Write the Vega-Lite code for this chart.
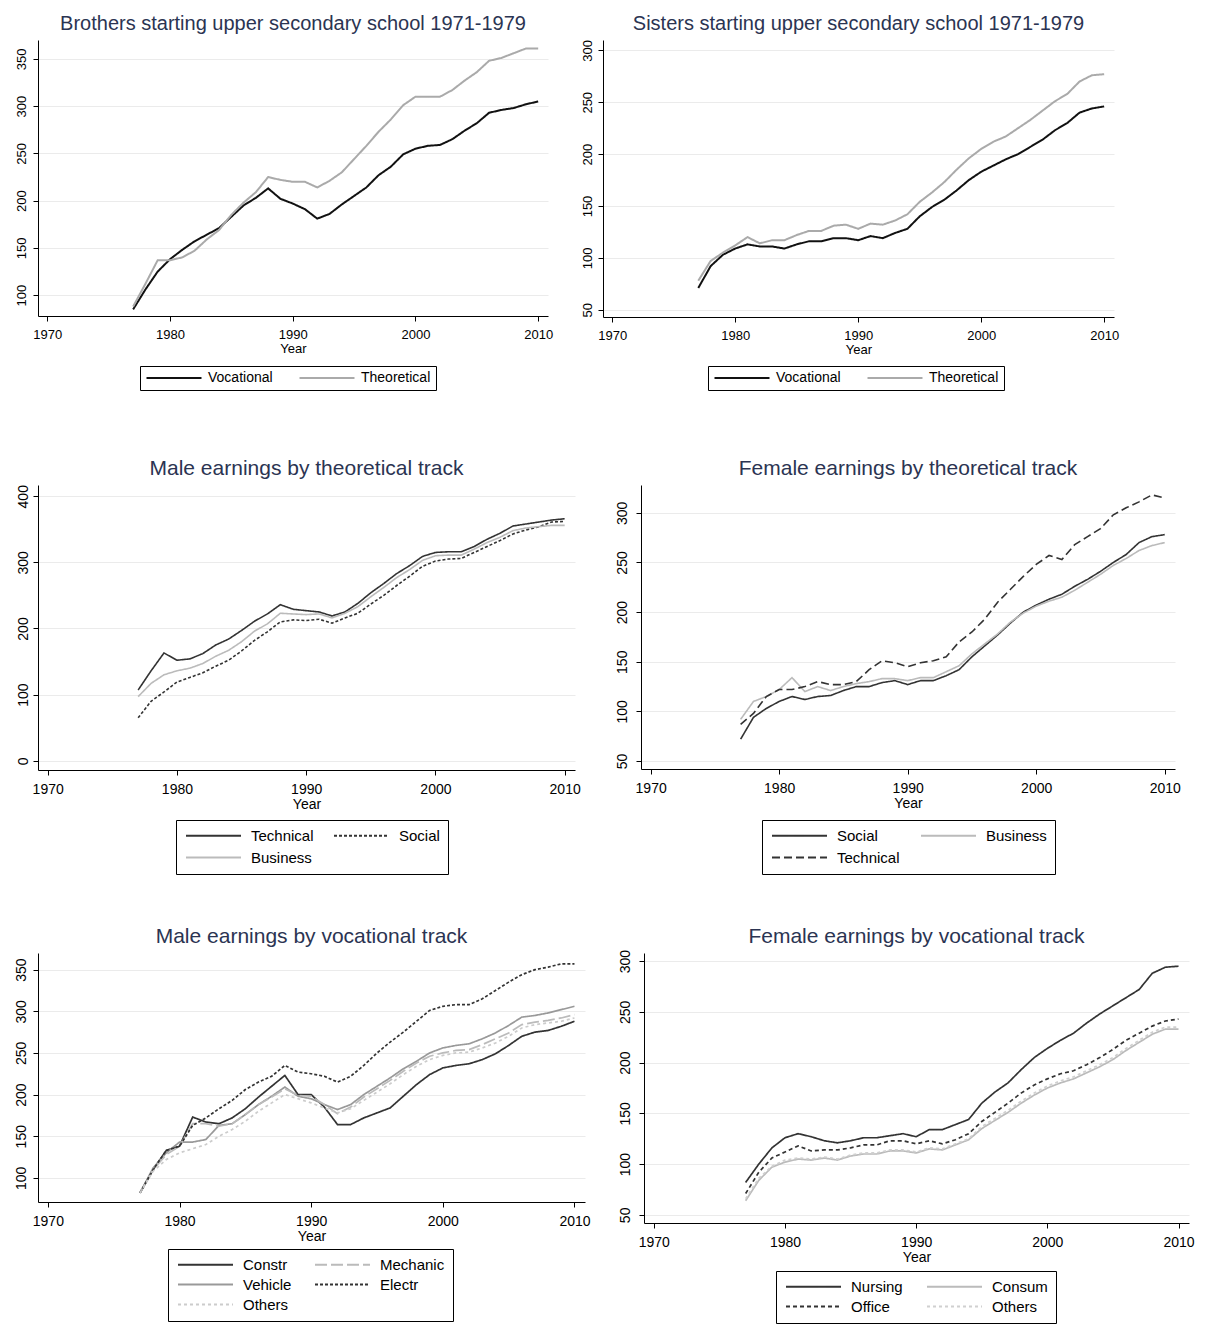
{
"$schema":"https://vega.github.io/schema/vega-lite/v6.json",
"background":"white",
"padding":{"left":14,"top":13,"right":0,"bottom":0},
"datasets":{
"p1":[{"year":1977,"Vocational":85,"Theoretical":88},{"year":1978,"Vocational":106,"Theoretical":112},{"year":1979,"Vocational":125,"Theoretical":137},{"year":1980,"Vocational":138,"Theoretical":137},{"year":1981,"Vocational":148,"Theoretical":140},{"year":1982,"Vocational":157,"Theoretical":147},{"year":1983,"Vocational":164,"Theoretical":159},{"year":1984,"Vocational":171,"Theoretical":169},{"year":1985,"Vocational":183,"Theoretical":185},{"year":1986,"Vocational":195,"Theoretical":198},{"year":1987,"Vocational":203,"Theoretical":209},{"year":1988,"Vocational":213,"Theoretical":225},{"year":1989,"Vocational":202,"Theoretical":222},{"year":1990,"Vocational":197,"Theoretical":220},{"year":1991,"Vocational":191,"Theoretical":220},{"year":1992,"Vocational":181,"Theoretical":214},{"year":1993,"Vocational":186,"Theoretical":221},{"year":1994,"Vocational":196,"Theoretical":230},{"year":1995,"Vocational":205,"Theoretical":244},{"year":1996,"Vocational":214,"Theoretical":258},{"year":1997,"Vocational":227,"Theoretical":273},{"year":1998,"Vocational":236,"Theoretical":286},{"year":1999,"Vocational":249,"Theoretical":301},{"year":2000,"Vocational":255,"Theoretical":310},{"year":2001,"Vocational":258,"Theoretical":310},{"year":2002,"Vocational":259,"Theoretical":310},{"year":2003,"Vocational":265,"Theoretical":317},{"year":2004,"Vocational":274,"Theoretical":327},{"year":2005,"Vocational":282,"Theoretical":336},{"year":2006,"Vocational":293,"Theoretical":348},{"year":2007,"Vocational":296,"Theoretical":351},{"year":2008,"Vocational":298,"Theoretical":356},{"year":2009,"Vocational":302,"Theoretical":361},{"year":2010,"Vocational":305,"Theoretical":361}],
"p2":[{"year":1977,"Vocational":71,"Theoretical":78},{"year":1978,"Vocational":92,"Theoretical":97},{"year":1979,"Vocational":103,"Theoretical":105},{"year":1980,"Vocational":109,"Theoretical":112},{"year":1981,"Vocational":113,"Theoretical":120},{"year":1982,"Vocational":111,"Theoretical":114},{"year":1983,"Vocational":111,"Theoretical":117},{"year":1984,"Vocational":109,"Theoretical":117},{"year":1985,"Vocational":113,"Theoretical":122},{"year":1986,"Vocational":116,"Theoretical":126},{"year":1987,"Vocational":116,"Theoretical":126},{"year":1988,"Vocational":119,"Theoretical":131},{"year":1989,"Vocational":119,"Theoretical":132},{"year":1990,"Vocational":117,"Theoretical":128},{"year":1991,"Vocational":121,"Theoretical":133},{"year":1992,"Vocational":119,"Theoretical":132},{"year":1993,"Vocational":124,"Theoretical":136},{"year":1994,"Vocational":128,"Theoretical":142},{"year":1995,"Vocational":140,"Theoretical":154},{"year":1996,"Vocational":149,"Theoretical":163},{"year":1997,"Vocational":156,"Theoretical":173},{"year":1998,"Vocational":165,"Theoretical":185},{"year":1999,"Vocational":175,"Theoretical":196},{"year":2000,"Vocational":183,"Theoretical":205},{"year":2001,"Vocational":189,"Theoretical":212},{"year":2002,"Vocational":195,"Theoretical":217},{"year":2003,"Vocational":200,"Theoretical":225},{"year":2004,"Vocational":207,"Theoretical":233},{"year":2005,"Vocational":214,"Theoretical":242},{"year":2006,"Vocational":223,"Theoretical":251},{"year":2007,"Vocational":230,"Theoretical":258},{"year":2008,"Vocational":240,"Theoretical":270},{"year":2009,"Vocational":244,"Theoretical":276},{"year":2010,"Vocational":246,"Theoretical":277}],
"p3":[{"year":1977,"Technical":107,"Social":65,"Business":97},{"year":1978,"Technical":136,"Social":90,"Business":117},{"year":1979,"Technical":163,"Social":104,"Business":130},{"year":1980,"Technical":152,"Social":119,"Business":136},{"year":1981,"Technical":154,"Social":126,"Business":140},{"year":1982,"Technical":162,"Social":133,"Business":147},{"year":1983,"Technical":175,"Social":143,"Business":158},{"year":1984,"Technical":184,"Social":152,"Business":167},{"year":1985,"Technical":197,"Social":166,"Business":180},{"year":1986,"Technical":211,"Social":182,"Business":196},{"year":1987,"Technical":222,"Social":195,"Business":207},{"year":1988,"Technical":236,"Social":210,"Business":223},{"year":1989,"Technical":229,"Social":213,"Business":222},{"year":1990,"Technical":227,"Social":212,"Business":221},{"year":1991,"Technical":225,"Social":214,"Business":222},{"year":1992,"Technical":219,"Social":208,"Business":216},{"year":1993,"Technical":225,"Social":216,"Business":223},{"year":1994,"Technical":238,"Social":223,"Business":233},{"year":1995,"Technical":254,"Social":237,"Business":248},{"year":1996,"Technical":268,"Social":250,"Business":262},{"year":1997,"Technical":283,"Social":265,"Business":277},{"year":1998,"Technical":295,"Social":279,"Business":289},{"year":1999,"Technical":309,"Social":294,"Business":303},{"year":2000,"Technical":315,"Social":302,"Business":310},{"year":2001,"Technical":316,"Social":305,"Business":311},{"year":2002,"Technical":316,"Social":306,"Business":311},{"year":2003,"Technical":324,"Social":315,"Business":320},{"year":2004,"Technical":335,"Social":324,"Business":330},{"year":2005,"Technical":344,"Social":333,"Business":338},{"year":2006,"Technical":355,"Social":343,"Business":348},{"year":2007,"Technical":358,"Social":349,"Business":352},{"year":2008,"Technical":361,"Social":354,"Business":354},{"year":2009,"Technical":364,"Social":361,"Business":356},{"year":2010,"Technical":366,"Social":362,"Business":356}],
"p4":[{"year":1977,"Social":72,"Business":92,"Technical":87},{"year":1978,"Social":94,"Business":110,"Technical":98},{"year":1979,"Social":103,"Business":115,"Technical":115},{"year":1980,"Social":110,"Business":122,"Technical":122},{"year":1981,"Social":115,"Business":134,"Technical":122},{"year":1982,"Social":112,"Business":120,"Technical":125},{"year":1983,"Social":115,"Business":125,"Technical":130},{"year":1984,"Social":116,"Business":121,"Technical":127},{"year":1985,"Social":121,"Business":125,"Technical":127},{"year":1986,"Social":125,"Business":128,"Technical":130},{"year":1987,"Social":125,"Business":130,"Technical":142},{"year":1988,"Social":129,"Business":133,"Technical":151},{"year":1989,"Social":131,"Business":133,"Technical":149},{"year":1990,"Social":127,"Business":131,"Technical":145},{"year":1991,"Social":131,"Business":134,"Technical":149},{"year":1992,"Social":131,"Business":134,"Technical":151},{"year":1993,"Social":136,"Business":140,"Technical":155},{"year":1994,"Social":142,"Business":146,"Technical":170},{"year":1995,"Social":155,"Business":158,"Technical":180},{"year":1996,"Social":166,"Business":168,"Technical":193},{"year":1997,"Social":177,"Business":178,"Technical":210},{"year":1998,"Social":189,"Business":190,"Technical":223},{"year":1999,"Social":200,"Business":199,"Technical":236},{"year":2000,"Social":207,"Business":206,"Technical":248},{"year":2001,"Social":213,"Business":211,"Technical":257},{"year":2002,"Social":218,"Business":215,"Technical":253},{"year":2003,"Social":226,"Business":222,"Technical":268},{"year":2004,"Social":233,"Business":230,"Technical":276},{"year":2005,"Social":241,"Business":238,"Technical":284},{"year":2006,"Social":250,"Business":247,"Technical":298},{"year":2007,"Social":258,"Business":254,"Technical":305},{"year":2008,"Social":270,"Business":262,"Technical":311},{"year":2009,"Social":276,"Business":267,"Technical":318},{"year":2010,"Social":278,"Business":270,"Technical":315}],
"p5":[{"year":1977,"Constr":82,"Vehicle":82,"Mechanic":82,"Electr":82,"Others":82},{"year":1978,"Constr":110,"Vehicle":112,"Mechanic":110,"Electr":110,"Others":108},{"year":1979,"Constr":133,"Vehicle":130,"Mechanic":128,"Electr":133,"Others":122},{"year":1980,"Constr":138,"Vehicle":143,"Mechanic":138,"Electr":138,"Others":130},{"year":1981,"Constr":173,"Vehicle":143,"Mechanic":165,"Electr":163,"Others":135},{"year":1982,"Constr":167,"Vehicle":146,"Mechanic":165,"Electr":172,"Others":140},{"year":1983,"Constr":165,"Vehicle":163,"Mechanic":162,"Electr":183,"Others":150},{"year":1984,"Constr":172,"Vehicle":165,"Mechanic":165,"Electr":193,"Others":158},{"year":1985,"Constr":183,"Vehicle":176,"Mechanic":176,"Electr":206,"Others":168},{"year":1986,"Constr":197,"Vehicle":188,"Mechanic":188,"Electr":215,"Others":180},{"year":1987,"Constr":210,"Vehicle":198,"Mechanic":197,"Electr":222,"Others":190},{"year":1988,"Constr":223,"Vehicle":209,"Mechanic":207,"Electr":235,"Others":200},{"year":1989,"Constr":200,"Vehicle":198,"Mechanic":199,"Electr":227,"Others":195},{"year":1990,"Constr":200,"Vehicle":195,"Mechanic":198,"Electr":225,"Others":190},{"year":1991,"Constr":185,"Vehicle":188,"Mechanic":188,"Electr":222,"Others":184},{"year":1992,"Constr":164,"Vehicle":182,"Mechanic":177,"Electr":215,"Others":178},{"year":1993,"Constr":164,"Vehicle":188,"Mechanic":185,"Electr":222,"Others":183},{"year":1994,"Constr":172,"Vehicle":200,"Mechanic":197,"Electr":235,"Others":193},{"year":1995,"Constr":178,"Vehicle":210,"Mechanic":207,"Electr":250,"Others":203},{"year":1996,"Constr":184,"Vehicle":220,"Mechanic":217,"Electr":263,"Others":213},{"year":1997,"Constr":198,"Vehicle":231,"Mechanic":228,"Electr":275,"Others":224},{"year":1998,"Constr":212,"Vehicle":240,"Mechanic":238,"Electr":288,"Others":234},{"year":1999,"Constr":224,"Vehicle":250,"Mechanic":246,"Electr":301,"Others":242},{"year":2000,"Constr":232,"Vehicle":256,"Mechanic":250,"Electr":306,"Others":247},{"year":2001,"Constr":235,"Vehicle":259,"Mechanic":253,"Electr":308,"Others":250},{"year":2002,"Constr":237,"Vehicle":261,"Mechanic":254,"Electr":308,"Others":251},{"year":2003,"Constr":242,"Vehicle":267,"Mechanic":260,"Electr":315,"Others":256},{"year":2004,"Constr":249,"Vehicle":274,"Mechanic":267,"Electr":325,"Others":262},{"year":2005,"Constr":259,"Vehicle":283,"Mechanic":274,"Electr":335,"Others":270},{"year":2006,"Constr":270,"Vehicle":293,"Mechanic":284,"Electr":344,"Others":280},{"year":2007,"Constr":275,"Vehicle":295,"Mechanic":287,"Electr":350,"Others":284},{"year":2008,"Constr":277,"Vehicle":298,"Mechanic":289,"Electr":353,"Others":286},{"year":2009,"Constr":282,"Vehicle":302,"Mechanic":292,"Electr":357,"Others":288},{"year":2010,"Constr":288,"Vehicle":306,"Mechanic":296,"Electr":357,"Others":292}],
"p6":[{"year":1977,"Nursing":82,"Office":71,"Consum":64,"Others":66},{"year":1978,"Nursing":100,"Office":92,"Consum":84,"Others":86},{"year":1979,"Nursing":116,"Office":106,"Consum":97,"Others":98},{"year":1980,"Nursing":126,"Office":112,"Consum":102,"Others":104},{"year":1981,"Nursing":130,"Office":118,"Consum":105,"Others":106},{"year":1982,"Nursing":127,"Office":113,"Consum":104,"Others":105},{"year":1983,"Nursing":123,"Office":114,"Consum":106,"Others":107},{"year":1984,"Nursing":121,"Office":114,"Consum":104,"Others":105},{"year":1985,"Nursing":123,"Office":116,"Consum":108,"Others":109},{"year":1986,"Nursing":126,"Office":119,"Consum":110,"Others":111},{"year":1987,"Nursing":126,"Office":119,"Consum":110,"Others":111},{"year":1988,"Nursing":128,"Office":123,"Consum":113,"Others":114},{"year":1989,"Nursing":130,"Office":123,"Consum":113,"Others":114},{"year":1990,"Nursing":127,"Office":120,"Consum":111,"Others":112},{"year":1991,"Nursing":134,"Office":123,"Consum":115,"Others":116},{"year":1992,"Nursing":134,"Office":120,"Consum":114,"Others":115},{"year":1993,"Nursing":139,"Office":124,"Consum":119,"Others":120},{"year":1994,"Nursing":144,"Office":130,"Consum":124,"Others":125},{"year":1995,"Nursing":160,"Office":142,"Consum":135,"Others":137},{"year":1996,"Nursing":171,"Office":151,"Consum":143,"Others":145},{"year":1997,"Nursing":180,"Office":160,"Consum":151,"Others":153},{"year":1998,"Nursing":193,"Office":170,"Consum":160,"Others":162},{"year":1999,"Nursing":205,"Office":178,"Consum":168,"Others":170},{"year":2000,"Nursing":214,"Office":184,"Consum":175,"Others":177},{"year":2001,"Nursing":222,"Office":189,"Consum":180,"Others":182},{"year":2002,"Nursing":229,"Office":192,"Consum":184,"Others":186},{"year":2003,"Nursing":239,"Office":198,"Consum":190,"Others":192},{"year":2004,"Nursing":248,"Office":205,"Consum":196,"Others":198},{"year":2005,"Nursing":256,"Office":213,"Consum":203,"Others":205},{"year":2006,"Nursing":264,"Office":222,"Consum":212,"Others":214},{"year":2007,"Nursing":272,"Office":229,"Consum":220,"Others":222},{"year":2008,"Nursing":288,"Office":236,"Consum":228,"Others":230},{"year":2009,"Nursing":294,"Office":241,"Consum":233,"Others":235},{"year":2010,"Nursing":295,"Office":243,"Consum":233,"Others":235}]
},
"resolve":{"scale":{"x":"independent","y":"independent","color":"independent","strokeDash":"independent"},"legend":{"color":"independent","strokeDash":"independent"},"axis":{"x":"independent","y":"independent"}},
"spacing":51,
"vconcat":[
{"spacing":66,
"resolve":{"scale":{"x":"independent","y":"independent","color":"independent","strokeDash":"independent"},"legend":{"color":"independent","strokeDash":"independent"},"axis":{"x":"independent","y":"independent"}},
"vconcat":[
{"spacing":28,
"resolve":{"scale":{"x":"independent","y":"independent","color":"independent","strokeDash":"independent"},"legend":{"color":"independent","strokeDash":"independent"},"axis":{"x":"independent","y":"independent"}},
"hconcat":[
{"width":510,"height":276,
"title":{"text":"Brothers starting upper secondary school 1971-1979","fontSize":20},
"data":{"name":"p1"},
"transform":[{"fold":["Vocational","Theoretical"],"as":["series","value"]}],
"mark":{"type":"line","strokeWidth":2},
"encoding":{
"x":{"field":"year","type":"quantitative","scale":{"domain":[1969.25,2010.8],"nice":false,"zero":false},"axis":{"values":[1970,1980,1990,2000,2010],"format":"d","title":"Year"}},
"y":{"field":"value","type":"quantitative","scale":{"domain":[78,370],"nice":false,"zero":false},"axis":{"values":[100,150,200,250,300,350],"title":null,"labelPadding":5}},
"color":{"field":"series","type":"nominal","scale":{"domain":["Vocational","Theoretical"],"range":["#111111","#aaaaaa"]},"legend":{"orient":"none","legendX":102,"legendY":326,"columns":2,"columnPadding":22,"labelFontSize":14,"padding":5,"labelOffset":49}},
"strokeDash":{"field":"series","type":"nominal","scale":{"domain":["Vocational","Theoretical"],"range":[[1,0],[1,0]]},"legend":{"orient":"none","legendX":102,"legendY":326,"columns":2,"columnPadding":22,"labelFontSize":14,"padding":5,"labelOffset":49}}
}},
{"width":511,"height":277,
"title":{"text":"Sisters starting upper secondary school 1971-1979","fontSize":20},
"data":{"name":"p2"},
"transform":[{"fold":["Vocational","Theoretical"],"as":["series","value"]}],
"mark":{"type":"line","strokeWidth":2},
"encoding":{
"x":{"field":"year","type":"quantitative","scale":{"domain":[1969.25,2010.8],"nice":false,"zero":false},"axis":{"values":[1970,1980,1990,2000,2010],"format":"d","title":"Year"}},
"y":{"field":"value","type":"quantitative","scale":{"domain":[43,310],"nice":false,"zero":false},"axis":{"values":[50,100,150,200,250,300],"title":null,"labelPadding":4}},
"color":{"field":"series","type":"nominal","scale":{"domain":["Vocational","Theoretical"],"range":["#111111","#aaaaaa"]},"legend":{"orient":"none","legendX":105,"legendY":326,"columns":2,"columnPadding":22,"labelFontSize":14,"padding":5,"labelOffset":49}},
"strokeDash":{"field":"series","type":"nominal","scale":{"domain":["Vocational","Theoretical"],"range":[[1,0],[1,0]]},"legend":{"orient":"none","legendX":105,"legendY":326,"columns":2,"columnPadding":22,"labelFontSize":14,"padding":5,"labelOffset":49}}
}}
]},
{"spacing":34,
"resolve":{"scale":{"x":"independent","y":"independent","color":"independent","strokeDash":"independent"},"legend":{"color":"independent","strokeDash":"independent"},"axis":{"x":"independent","y":"independent"}},
"hconcat":[
{"width":537,"height":285,
"title":{"text":"Male earnings by theoretical track","fontSize":21},
"data":{"name":"p3"},
"transform":[{"fold":["Technical","Social","Business"],"as":["series","value"]}],
"mark":{"type":"line","strokeWidth":1.6},
"encoding":{
"x":{"field":"year","type":"quantitative","scale":{"domain":[1969.25,2010.8],"nice":false,"zero":false},"axis":{"values":[1970,1980,1990,2000,2010],"format":"d","title":"Year","labelFontSize":14,"titleFontSize":14}},
"y":{"field":"value","type":"quantitative","scale":{"domain":[-14,417],"nice":false,"zero":false},"axis":{"values":[0,100,200,300,400],"title":null,"labelPadding":3,"labelFontSize":14}},
"color":{"field":"series","type":"nominal","scale":{"domain":["Technical","Social","Business"],"range":["#333333","#333333","#bbbbbb"]},"legend":{"orient":"none","legendX":138,"legendY":335,"columns":2,"columnPadding":16,"labelFontSize":15,"padding":8,"labelOffset":52}},
"strokeDash":{"field":"series","type":"nominal","scale":{"domain":["Technical","Social","Business"],"range":[[1,0],[3,2],[1,0]]},"legend":{"orient":"none","legendX":138,"legendY":335,"columns":2,"columnPadding":16,"labelFontSize":15,"padding":8,"labelOffset":52}}
}},
{"width":534,"height":284,
"title":{"text":"Female earnings by theoretical track","fontSize":21},
"data":{"name":"p4"},
"transform":[{"fold":["Social","Business","Technical"],"as":["series","value"]}],
"mark":{"type":"line","strokeWidth":1.6},
"encoding":{
"x":{"field":"year","type":"quantitative","scale":{"domain":[1969.25,2010.8],"nice":false,"zero":false},"axis":{"values":[1970,1980,1990,2000,2010],"format":"d","title":"Year","labelFontSize":14,"titleFontSize":14}},
"y":{"field":"value","type":"quantitative","scale":{"domain":[42,328],"nice":false,"zero":false},"axis":{"values":[50,100,150,200,250,300],"title":null,"labelPadding":7,"labelFontSize":14}},
"color":{"field":"series","type":"nominal","scale":{"domain":["Social","Business","Technical"],"range":["#333333","#bbbbbb","#333333"]},"legend":{"orient":"none","legendX":121,"legendY":335,"columns":2,"columnPadding":17,"labelFontSize":15,"padding":8,"labelOffset":52}},
"strokeDash":{"field":"series","type":"nominal","scale":{"domain":["Social","Business","Technical"],"range":[[1,0],[1,0],[8,4]]},"legend":{"orient":"none","legendX":121,"legendY":335,"columns":2,"columnPadding":17,"labelFontSize":15,"padding":8,"labelOffset":52}}
}}
]}
]},
{"spacing":27,
"resolve":{"scale":{"x":"independent","y":"independent","color":"independent","strokeDash":"independent"},"legend":{"color":"independent","strokeDash":"independent"},"axis":{"x":"independent","y":"independent"}},
"hconcat":[
{"width":547,"height":249,
"title":{"text":"Male earnings by vocational track","fontSize":21},
"data":{"name":"p5"},
"transform":[{"fold":["Constr","Vehicle","Mechanic","Electr","Others"],"as":["series","value"]}],
"mark":{"type":"line","strokeWidth":1.7},
"encoding":{
"x":{"field":"year","type":"quantitative","scale":{"domain":[1969.25,2010.8],"nice":false,"zero":false},"axis":{"values":[1970,1980,1990,2000,2010],"format":"d","title":"Year","labelFontSize":14,"titleFontSize":14}},
"y":{"field":"value","type":"quantitative","scale":{"domain":[71,370],"nice":false,"zero":false},"axis":{"values":[100,150,200,250,300,350],"title":null,"labelPadding":5,"labelFontSize":14}},
"color":{"field":"series","type":"nominal","scale":{"domain":["Constr","Mechanic","Vehicle","Electr","Others"],"range":["#333333","#bbbbbb","#999999","#333333","#cccccc"]},"legend":{"orient":"none","legendX":130,"legendY":296,"columns":2,"columnPadding":19,"labelFontSize":15,"padding":8,"rowPadding":4,"labelOffset":52}},
"strokeDash":{"field":"series","type":"nominal","scale":{"domain":["Constr","Mechanic","Vehicle","Electr","Others"],"range":[[1,0],[12,4],[1,0],[3,2],[3,3]]},"legend":{"orient":"none","legendX":130,"legendY":296,"columns":2,"columnPadding":19,"labelFontSize":15,"padding":8,"rowPadding":4,"labelOffset":52}}
}},
{"width":545,"height":270,
"title":{"text":"Female earnings by vocational track","fontSize":21,"offset":2},
"data":{"name":"p6"},
"transform":[{"fold":["Nursing","Office","Consum","Others"],"as":["series","value"]}],
"mark":{"type":"line","strokeWidth":1.7},
"encoding":{
"x":{"field":"year","type":"quantitative","scale":{"domain":[1969.25,2010.8],"nice":false,"zero":false},"axis":{"values":[1970,1980,1990,2000,2010],"format":"d","title":"Year","labelFontSize":14,"titleFontSize":14}},
"y":{"field":"value","type":"quantitative","scale":{"domain":[42,308],"nice":false,"zero":false},"axis":{"values":[50,100,150,200,250,300],"title":null,"labelPadding":7,"labelFontSize":14}},
"color":{"field":"series","type":"nominal","scale":{"domain":["Nursing","Consum","Office","Others"],"range":["#333333","#bbbbbb","#333333","#d0d0d0"]},"legend":{"orient":"none","legendX":132,"legendY":318,"columns":2,"columnPadding":20,"labelFontSize":15,"padding":8,"rowPadding":4,"labelOffset":52}},
"strokeDash":{"field":"series","type":"nominal","scale":{"domain":["Nursing","Consum","Office","Others"],"range":[[1,0],[1,0],[4,3],[3,3]]},"legend":{"orient":"none","legendX":132,"legendY":318,"columns":2,"columnPadding":20,"labelFontSize":15,"padding":8,"rowPadding":4,"labelOffset":52}}
}}
]}
],
"config":{
"view":{"stroke":null},
"font":"Liberation Sans",
"title":{"fontWeight":"normal","color":"#2b3452","font":"Liberation Sans","offset":6,"anchor":"middle"},
"axis":{"domainColor":"#000000","domainWidth":1,"tickColor":"#000000","tickSize":5,"labelColor":"#000000","titleColor":"#000000","labelFont":"Liberation Sans","titleFont":"Liberation Sans","titleFontWeight":"normal","labelFontSize":13,"titleFontSize":13,"gridColor":"#ebebeb","gridWidth":1,"labelFlush":false,"labelOverlap":false,"labelBound":false},
"axisX":{"grid":false,"titlePadding":1,"labelPadding":7},
"axisY":{"grid":true,"labelAngle":-90,"labelAlign":"center","labelBaseline":"bottom"},
"legend":{"title":null,"direction":"horizontal","symbolType":"M-1,0H9","symbolSize":121,"symbolStrokeWidth":2,"labelFont":"Liberation Sans","labelColor":"#000000","strokeColor":"#000000","fillColor":"#ffffff","rowPadding":6,"gridAlign":"each","labelLimit":200}
}
}
